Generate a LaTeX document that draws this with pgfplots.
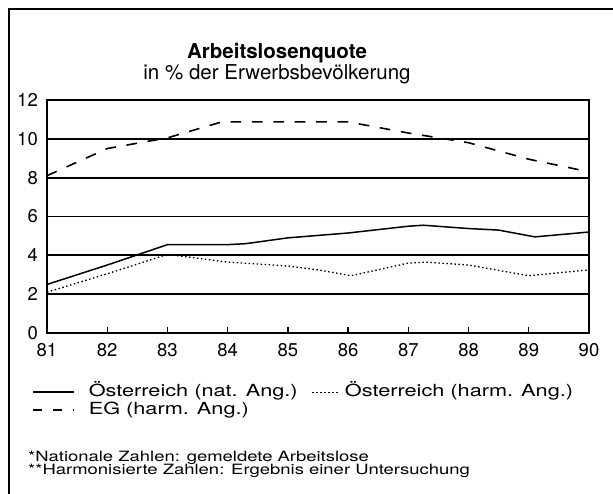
\documentclass[border=0pt]{standalone}
\usepackage{fontspec}
\setmainfont{TeX Gyre Heros}
\newfontfamily\widefont{TeX Gyre Heros}[FakeStretch=1.3]
\usepackage{pgfplots}
\pgfplotsset{compat=1.18}
\pgfplotsset{
  limgsolid/.style={legend image code/.code={\draw[##1] (0pt,0pt) -- (41pt,0pt);}},
  limgdot/.style={legend image code/.code={\path (0pt,0pt) -- (18pt,0pt); \draw[##1, overlay] (0pt,0pt) -- (28pt,0pt);}},
  limgdash/.style={legend image code/.code={\draw[##1, dash pattern=on 9pt off 11pt] (0pt,0pt) -- (41pt,0pt);}},
}
\begin{document}
\begin{tikzpicture}[x=1pt,y=1pt]
\useasboundingbox (-47,-161) rectangle (566,333);
\draw[line width=1.3pt] (-38,-161) -- (-38,324) -- (566,324);
\node[font=\bfseries\fontsize{20.5}{20.5}\selectfont, anchor=base, inner sep=0pt, text depth=0pt] at (230,274.5) {Arbeitslosenquote};
\node[font=\fontsize{20.5}{20.5}\selectfont, anchor=base, inner sep=0pt, text height=11pt] at (230,253) {in \% der Erwerbsbevölkerung};
\node[font=\widefont\fontsize{14.2}{14.2}\selectfont, anchor=base west, inner sep=0pt, text depth=0pt] at (-19,-129) {*Nationale Zahlen: gemeldete Arbeitslose};
\node[font=\widefont\fontsize{14.2}{14.2}\selectfont, anchor=base west, inner sep=0pt, text height=9pt] at (-19,-142) {**Harmonisierte Zahlen: Ergebnis einer Untersuchung};
\begin{axis}[
  at={(0,0)}, anchor=south west,
  scale only axis, width=542pt, height=233pt,
  xmin=81, xmax=90, ymin=0, ymax=12,
  xtick={81,82,...,90}, ytick={0,2,...,12},
  /pgf/number format/assume math mode=true,
  ticklabel style={font=\fontsize{18.5}{18.5}\selectfont, inner sep=0pt},
  ymajorgrids, grid style={black, line width=1.7pt},
  axis line style={line width=1.4pt},
  xtick pos=bottom, ytick pos=left,
  tick align=inside, major tick length=6pt,
  xtick style={black, line width=1.3pt},
  ytick style={draw=none},
  xticklabel style={anchor=north, yshift=-10pt},
  yticklabel style={anchor=east, xshift=-9pt},
  legend columns=2,
  legend cell align=left,
  legend style={draw=none, fill=none, font=\widefont\fontsize{16.7}{16.7}\selectfont,
    at={(-15pt,-51pt)}, anchor=north west, inner sep=0pt,
    nodes={inner sep=0pt, text height=12pt, text depth=4pt}, column sep=14pt, row sep=2pt},
]
\addplot[black, line width=1.5pt, limgsolid] coordinates {
(81,2.5) (82,3.5) (83,4.55) (84,4.55) (84.3,4.6) (85,4.9) (86,5.15) (87,5.5) (87.25,5.55) (88,5.38) (88.5,5.3) (89.1,4.95) (90,5.2)};
\addlegendentry{Österreich (nat. Ang.)}
\addplot[black, line width=1.3pt, dash pattern=on 1.5pt off 2.5pt, limgdot] coordinates {
(81,2.1) (82,3.05) (83,4.05) (84,3.65) (85,3.45) (85.5,3.25) (86.05,2.95) (87,3.6) (87.3,3.65) (88,3.5) (89,2.95) (90,3.25)};
\addlegendentry{Österreich (harm. Ang.)}
\addplot[black, line width=1.6pt, dash pattern=on 10.7pt off 10.7pt, limgdash] coordinates {
(81,8.1) (82,9.5) (83,10.05) (83.9,10.87) (85,10.87) (86,10.87) (87,10.3) (88,9.8) (89,8.95) (90,8.3)};
\addlegendentry{EG (harm. Ang.)}
\end{axis}
\end{tikzpicture}
\end{document}
